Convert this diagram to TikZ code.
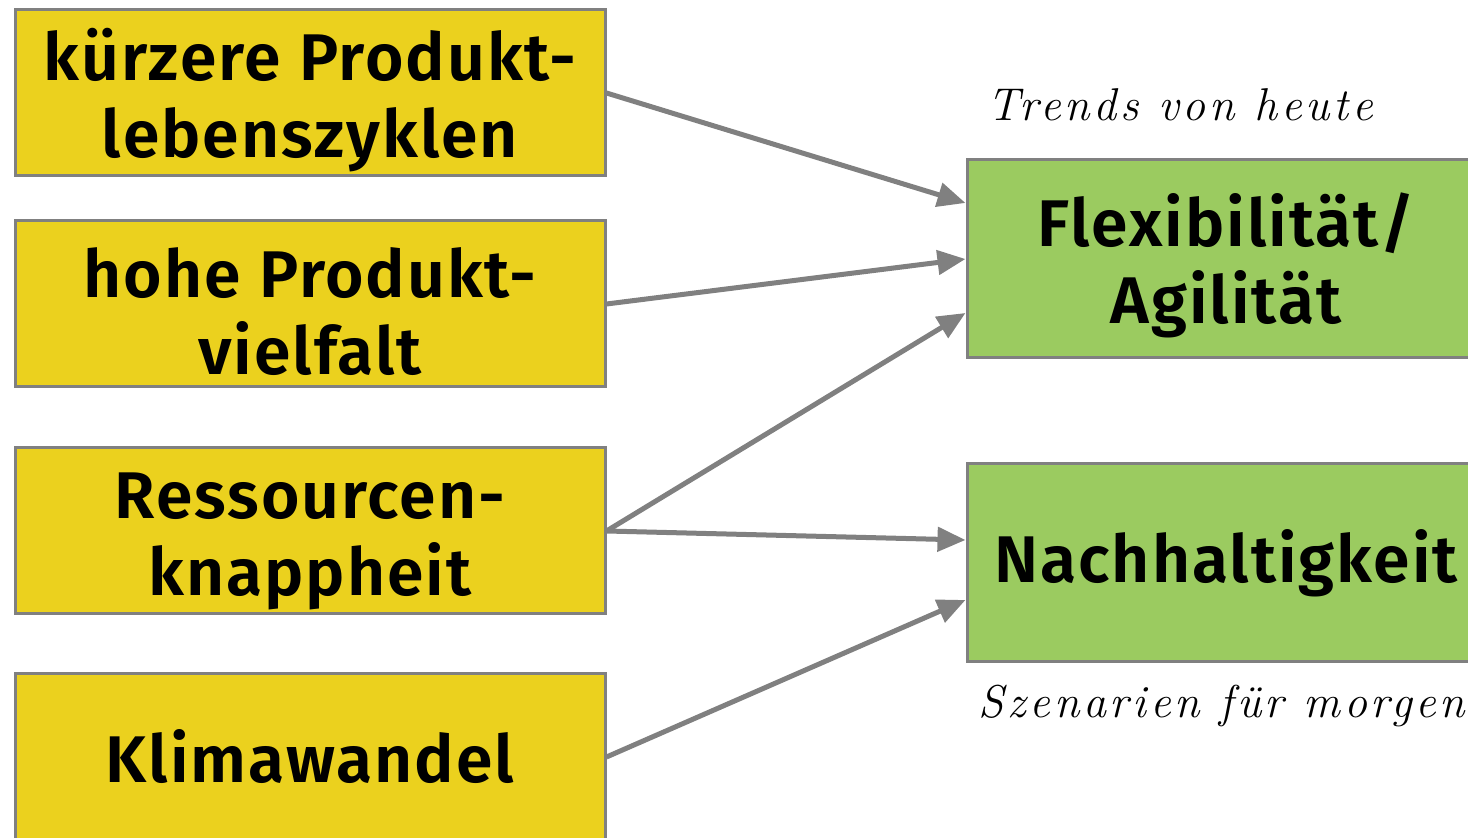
\documentclass[tikz,border=0pt]{standalone}
\usepackage{fontspec}
\setmainfont{Latin Modern Roman}
\setsansfont{Fira Sans}[BoldFont={Fira Sans SemiBold}]
\usetikzlibrary{arrows.meta}

\definecolor{trendgelb}{RGB}{235,209,30}
\definecolor{zielgruen}{RGB}{155,203,96}
\definecolor{randgrau}{RGB}{128,128,128}
\newcommand{\hochstrut}{\rule{0pt}{33pt}}

\begin{document}
\begin{tikzpicture}[x=0.5pt, y=-0.5pt, >={Triangle[length=14pt,width=12pt]},
    trend/.style={draw=randgrau, line width=1.5pt, fill=trendgelb,
      minimum width=295pt, minimum height=83pt, inner sep=0pt, align=center,
      font=\sffamily\bfseries\addfontfeatures{LetterSpace=3}\fontsize{33}{38.5}\selectfont},
    ziel/.style={trend, fill=zielgruen, minimum width=259pt, minimum height=99pt},
    zeit/.style={font=\itshape\addfontfeatures{LetterSpace=8}\fontsize{23}{26}\selectfont},
    pfeil/.style={->, draw=randgrau, line width=2.5pt}]
    \useasboundingbox (0,0) rectangle (1468,838);
    \clip (0,0) rectangle (1468,838);

    % Trends links
    \node[trend] (kurz) at (310,93) {\hochstrut kürzere Produkt-\\lebenszyklen};
    \node[trend] (vielfalt) at (310,304) {\hochstrut hohe Produkt-\\vielfalt};
    \node[trend] (knapp) at (310,531) {\hochstrut Ressourcen-\\knappheit};
    \node[trend] (klima) at (310,757) {Klimawandel};

    % Ziele rechts
    \node[ziel] (flex) at (1226,259) {\hochstrut Flexibilität/\\Agilität};
    \node[ziel] (nachhalt) at (1226,563) {Nachhaltigkeit};

    \node[zeit] (heute) at (1180,105) {Trends von heute};
    \node[zeit] (morgen) at (1222,706) {Szenarien für morgen};

    \draw[pfeil] (kurz.east) -- ([yshift=28pt]flex.west);
    \draw[pfeil] (vielfalt.east) -- ([yshift=0pt]flex.west);
    \draw[pfeil] (knapp.east) -- ([yshift=-27pt]flex.west);
    \draw[pfeil] (knapp.east) -- ([yshift=11.5pt]nachhalt.west);
    \draw[pfeil] (klima.east) -- ([yshift=-18.5pt]nachhalt.west);
  \end{tikzpicture}
\end{document}
